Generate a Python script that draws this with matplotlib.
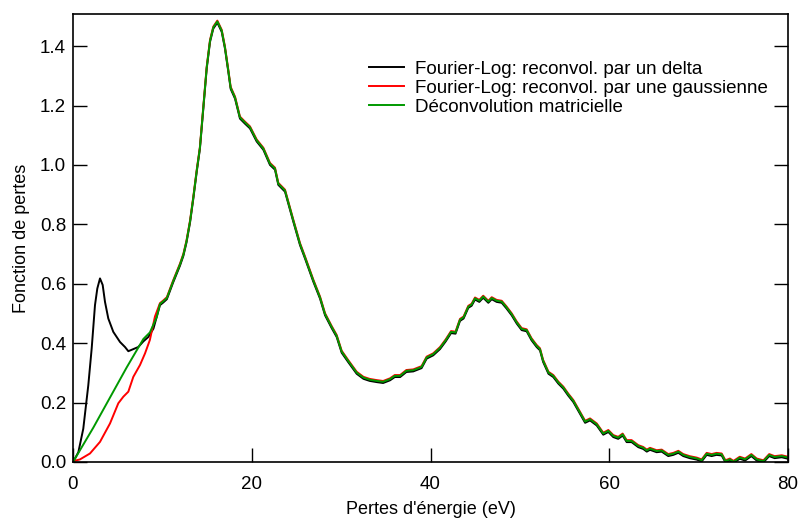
import numpy as np
import matplotlib
matplotlib.use("Agg")
import matplotlib.pyplot as plt
import matplotlib.transforms as mtransforms

plt.rcParams["font.family"] = ["Liberation Sans", "DejaVu Sans"]

# partie commune (au-dessus de ~9.7 eV les trois courbes se superposent)
e_common = [9.73, 10.1, 10.5, 11.2, 11.97, 12.35, 12.7, 13.1, 13.46, 13.84, 14.2, 14.58, 14.96,
            15.33, 15.7, 16.15, 16.64, 17.0, 17.38, 17.64, 18.13, 18.68, 19.24, 19.8, 20.55,
            21.3, 22.04, 22.6, 22.97, 23.72, 24.65, 25.4, 25.96, 26.89, 27.64, 28.2, 28.94,
            29.5, 30.06, 30.8, 31.74, 32.5, 33.2, 33.98, 34.7, 35.47, 36.0, 36.6, 37.3, 38.07,
            39.0, 39.57, 40.3, 41.06, 41.7, 42.3, 42.8, 43.3, 43.7, 44.23, 44.6, 44.98, 45.46,
            45.9, 46.47, 46.85, 47.4, 47.97, 48.5, 49.08, 49.65, 50.2, 50.76, 51.3, 51.88,
            52.25, 52.6, 53.2, 53.74, 54.3, 54.86, 55.4, 55.98, 56.73, 57.3, 57.85, 58.6,
            59.33, 59.9, 60.45, 61.0, 61.5, 61.95, 62.5, 63.25, 63.8, 64.2, 64.56, 65.3,
            65.87, 66.6, 67.17, 67.73, 68.28, 69.0, 69.8, 70.34, 70.9, 71.46, 72.0, 72.58,
            73.0, 73.5, 73.9, 74.6, 75.2, 75.9, 76.5, 77.25, 77.9, 78.5, 79.3, 80.0]
y_common = [0.532, 0.541, 0.552, 0.608, 0.665, 0.698, 0.743, 0.811, 0.89, 0.98, 1.058, 1.193, 1.328,
            1.418, 1.463, 1.483, 1.452, 1.396, 1.317, 1.26, 1.227, 1.16, 1.143, 1.127, 1.083,
            1.055, 1.004, 0.988, 0.937, 0.914, 0.813, 0.734, 0.689, 0.611, 0.554, 0.498, 0.455,
            0.425, 0.372, 0.340, 0.301, 0.284, 0.277, 0.273, 0.270, 0.279, 0.290, 0.290, 0.307, 0.309,
            0.320, 0.352, 0.363, 0.384, 0.410, 0.438, 0.436, 0.479, 0.487, 0.523, 0.530, 0.551, 0.543,
            0.557, 0.540, 0.552, 0.543, 0.540, 0.521, 0.498, 0.470, 0.448, 0.444, 0.414, 0.391,
            0.380, 0.341, 0.301, 0.290, 0.268, 0.251, 0.228, 0.206, 0.166, 0.136, 0.144, 0.127,
            0.096, 0.105, 0.088, 0.082, 0.093, 0.071, 0.071, 0.054, 0.048, 0.039, 0.045, 0.037,
            0.039, 0.024, 0.028, 0.035, 0.024, 0.017, 0.012, 0.006, 0.028, 0.024, 0.028, 0.026,
            0.003, 0.009, 0.001, 0.015, 0.009, 0.024, 0.009, 0.003, 0.024, 0.017, 0.020, 0.015]

# debut des courbes (0 - 9.5 eV)
e_delta = [0.0, 0.6, 1.15, 1.71, 2.09, 2.46, 2.72, 3.02, 3.32, 3.58, 3.95, 4.51, 5.26, 5.82,
           6.19, 6.75, 7.3, 7.87, 8.43, 9.0]
y_delta = [0.003, 0.037, 0.116, 0.262, 0.386, 0.532, 0.588, 0.622, 0.600, 0.543, 0.487, 0.442,
           0.408, 0.391, 0.377, 0.384, 0.391, 0.410, 0.425, 0.453]

e_gauss = [0.0, 0.78, 1.9, 3.02, 4.14, 5.07, 5.63, 6.19, 6.75, 7.5, 8.06, 8.6, 9.17]
y_gauss = [0.0, 0.006, 0.026, 0.065, 0.127, 0.195, 0.217, 0.234, 0.284, 0.324, 0.363, 0.408, 0.487]

e_matrix = [0.0, 2.28, 4.14, 6.0, 7.87, 8.6, 9.36]
y_matrix = [0.0, 0.116, 0.217, 0.318, 0.414, 0.436, 0.487]

labels = ["Fourier-Log: reconvol. par un delta",
          "Fourier-Log: reconvol. par une gaussienne",
          "Déconvolution matricielle"]

fig = plt.figure(figsize=(7.98, 5.20), dpi=100)
ax = fig.add_axes([73 / 798, 1 - 462 / 520, 715 / 798, 448 / 520])

tr_black = mtransforms.offset_copy(ax.transData, fig=fig, x=0, y=-1.2, units="dots")
tr_red = mtransforms.offset_copy(ax.transData, fig=fig, x=0, y=0.8, units="dots")

ax.plot(e_delta + e_common, y_delta + y_common, c="black", lw=1.4, label=labels[0], transform=tr_black)
ax.plot(e_gauss + e_common, y_gauss + y_common, c="#ff0000", lw=1.4, label=labels[1], transform=tr_red)
ax.plot(e_matrix + e_common, y_matrix + y_common, c="#009900", lw=1.4, label=labels[2])

ax.set_xlim(0, 80)
ax.set_ylim(0, 1.508)
ax.set_xticks([0, 20, 40, 60, 80])
ax.set_yticks(np.arange(0, 1.41, 0.2))
ax.yaxis.set_major_formatter(matplotlib.ticker.FormatStrFormatter("%.1f"))
ax.tick_params(direction="in", length=10, width=1, labelsize=13.5,
               right=True, top=False, colors="black")
ax.tick_params(axis="x", pad=10)
ax.tick_params(axis="y", pad=5)
for s in ax.spines.values():
    s.set_linewidth(1.2)

ax.set_xlabel("Pertes d'énergie (eV)", fontsize=13, labelpad=6)
ax.set_ylabel("Fonction de pertes", fontsize=13, labelpad=7)

ax.legend(loc="upper left", bbox_to_anchor=(0.414, 0.896), frameon=False, fontsize=13.5,
          handlelength=1.85, handletextpad=0.6, labelspacing=0.1, borderpad=0, borderaxespad=0)

plt.savefig("out.png", dpi=100)
plt.close()
